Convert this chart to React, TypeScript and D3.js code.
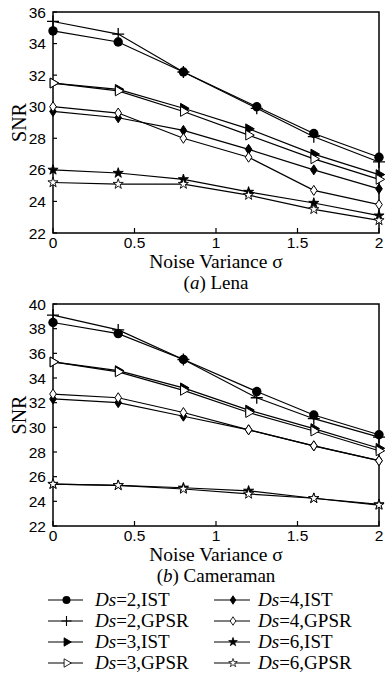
import React from 'react';
import * as d3 from 'd3';

// noise variance positions
const sigma = [0, 0.4, 0.8, 1.2, 1.6, 2];
const sigmaDs2 = [0, 0.4, 0.8, 1.25, 1.6, 2];
const xTicks = [0, 0.5, 1, 1.5, 2];

// (a) Lena
const lenaDs2Ist = [34.8, 34.1, 32.2, 30.0, 28.3, 26.8];
const lenaDs2Gpsr = [35.4, 34.6, 32.2, 29.9, 28.1, 26.5];
const lenaDs3Ist = [31.5, 31.1, 29.9, 28.6, 27.0, 25.7];
const lenaDs3Gpsr = [31.5, 31.0, 29.7, 28.2, 26.7, 25.4];
const lenaDs4Ist = [29.7, 29.3, 28.5, 27.3, 26.0, 24.8];
const lenaDs4Gpsr = [30.0, 29.6, 28.0, 26.8, 24.7, 23.8];
const lenaDs6Ist = [26.0, 25.8, 25.4, 24.6, 23.9, 23.1];
const lenaDs6Gpsr = [25.2, 25.1, 25.1, 24.4, 23.5, 22.8];
const lenaYTicks = [22, 24, 26, 28, 30, 32, 34, 36];

// (b) Cameraman
const camDs2Ist = [38.5, 37.6, 35.5, 32.9, 31.0, 29.4];
const camDs2Gpsr = [39.1, 37.9, 35.5, 32.4, 30.7, 29.2];
const camDs3Ist = [35.3, 34.6, 33.2, 31.4, 29.9, 28.3];
const camDs3Gpsr = [35.3, 34.5, 33.0, 31.2, 29.7, 28.1];
const camDs4Ist = [32.3, 32.0, 30.9, 29.8, 28.5, 27.3];
const camDs4Gpsr = [32.7, 32.4, 31.2, 29.8, 28.5, 27.3];
const camDs6Ist = [25.4, 25.3, 25.1, 24.85, 24.25, 23.75];
const camDs6Gpsr = [25.4, 25.3, 25.0, 24.6, 24.25, 23.7];
const camYTicks = [22, 24, 26, 28, 30, 32, 34, 36, 38, 40];

const seriesKeys = ['ds2Ist', 'ds2Gpsr', 'ds3Ist', 'ds3Gpsr', 'ds4Ist', 'ds4Gpsr', 'ds6Ist', 'ds6Gpsr'];
const legendDs = ['2', '2', '3', '3', '4', '4', '6', '6'];
const legendMethod = ['IST', 'GPSR', 'IST', 'GPSR', 'IST', 'GPSR', 'IST', 'GPSR'];

const serif = '"Liberation Serif", "Times New Roman", serif';
const sans = '"Liberation Sans", Arial, sans-serif';

const diamondPath = 'M0,-5L3.3,0L0,5L-3.3,0Z';

const Marker = ({ kind, x, y, s = 1 }: { kind: string; x: number; y: number; s?: number }) => {
  const t = `translate(${x},${y}) scale(${s})`;
  if (kind === 'ds2Ist') return <circle cx={x} cy={y} r={4.7 * s} fill="#000" />;
  if (kind === 'ds2Gpsr')
    return <path transform={t} d="M-6,0H6M0,-6V6" stroke="#000" strokeWidth={1.3} fill="none" />;
  if (kind === 'ds3Ist' || kind === 'ds3Gpsr') {
    const d = d3.symbol(d3.symbolTriangle, 42)()!;
    return (
      <path
        transform={`${t} rotate(90)`}
        d={d}
        fill={kind === 'ds3Ist' ? '#000' : '#fff'}
        stroke="#000"
        strokeWidth={1}
      />
    );
  }
  if (kind === 'ds4Ist' || kind === 'ds4Gpsr')
    return (
      <path transform={t} d={diamondPath} fill={kind === 'ds4Ist' ? '#000' : '#fff'} stroke="#000" strokeWidth={1} />
    );
  const d = d3.symbol(d3.symbolStar, 32)()!;
  return <path transform={t} d={d} fill={kind === 'ds6Ist' ? '#000' : '#fff'} stroke="#000" strokeWidth={0.9} />;
};

const Panel = ({
  data,
  yDomain,
  yTicks,
  top,
  bottom,
  tag,
  name,
}: {
  data: number[][];
  yDomain: [number, number];
  yTicks: number[];
  top: number;
  bottom: number;
  tag: string;
  name: string;
}) => {
  const x = d3.scaleLinear().domain([0, 2]).range([53, 379]);
  const y = d3.scaleLinear().domain(yDomain).range([bottom, top]);
  const line = d3
    .line<[number, number]>()
    .x((d) => x(d[0]))
    .y((d) => y(d[1]));
  return (
    <g>
      <rect x={53} y={top} width={326} height={bottom - top} fill="none" stroke="#000" strokeWidth={1.5} />
      {yTicks.map((t) => (
        <g key={t}>
          <line x1={53} x2={57} y1={y(t)} y2={y(t)} stroke="#000" strokeWidth={1.2} />
          <text x={46} y={y(t)} dy="0.36em" textAnchor="end" fontFamily={sans} fontSize={15.5}>
            {t}
          </text>
        </g>
      ))}
      {xTicks.map((t) => (
        <g key={t}>
          <line x1={x(t)} x2={x(t)} y1={bottom} y2={bottom - 5} stroke="#000" strokeWidth={1.2} />
          <text x={x(t)} y={bottom + 15} textAnchor="middle" fontFamily={sans} fontSize={15.5}>
            {t}
          </text>
        </g>
      ))}
      <text
        transform={`translate(26,${(top + bottom) / 2}) rotate(-90)`}
        textAnchor="middle"
        fontFamily={serif}
        fontSize={20}
      >
        SNR
      </text>
      <text x={216} y={bottom + 35} textAnchor="middle" fontFamily={serif} fontSize={19.5}>
        Noise Variance σ
      </text>
      <text x={216} y={bottom + 56} textAnchor="middle" fontFamily={serif} fontSize={19}>
        (<tspan fontStyle="italic">{tag}</tspan>) {name}
      </text>
      {data.map((vals, i) => {
        const xs = i < 2 ? sigmaDs2 : sigma;
        const pts = vals.map((v, j) => [xs[j], v] as [number, number]);
        return (
          <g key={seriesKeys[i]}>
            <path d={line(pts)!} fill="none" stroke="#000" strokeWidth={1.2} />
            {pts.map((p, j) => (
              <Marker key={j} kind={seriesKeys[i]} x={x(p[0])} y={y(p[1])} />
            ))}
          </g>
        );
      })}
    </g>
  );
};

const Legend = () => {
  const rowY = d3.scalePoint<number>().domain([0, 1, 2, 3]).range([600, 663]);
  return (
    <g>
      {seriesKeys.map((k, i) => {
        // left column Ds=2/3, right column Ds=4/6
        const r = i < 4 ? i : i - 4;
        const c = i < 4 ? 0 : 1;
        const cy = rowY(r)!;
        const x0 = c === 0 ? 48 : 214;
        const x1 = c === 0 ? 83 : 250;
        const tx = c === 0 ? 95 : 258;
        return (
          <g key={k}>
            <line x1={x0} x2={x1} y1={cy} y2={cy} stroke="#000" strokeWidth={1.2} />
            <Marker kind={k} x={(x0 + x1) / 2 + 1} y={cy} s={0.85} />
            <text x={tx} y={cy} dy="0.34em" fontFamily={serif} fontSize={19}>
              <tspan fontStyle="italic">Ds</tspan>={legendDs[i]},{legendMethod[i]}
            </text>
          </g>
        );
      })}
    </g>
  );
};

export default function App() {
  const lena = [lenaDs2Ist, lenaDs2Gpsr, lenaDs3Ist, lenaDs3Gpsr, lenaDs4Ist, lenaDs4Gpsr, lenaDs6Ist, lenaDs6Gpsr];
  const cam = [camDs2Ist, camDs2Gpsr, camDs3Ist, camDs3Gpsr, camDs4Ist, camDs4Gpsr, camDs6Ist, camDs6Gpsr];
  return (
    <div style={{ position: 'absolute', left: 0, top: 0, width: 390, height: 679, background: '#fff' }}>
      <svg width={390} height={679}>
        <Panel data={lena} yDomain={[22, 36]} yTicks={lenaYTicks} top={12} bottom={233} tag="a" name="Lena" />
        <Panel data={cam} yDomain={[22, 40]} yTicks={camYTicks} top={304} bottom={526} tag="b" name="Cameraman" />
        <Legend />
      </svg>
    </div>
  );
}
